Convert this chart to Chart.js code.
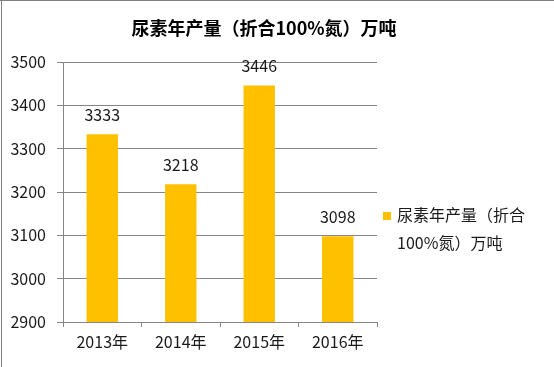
<!DOCTYPE html>
<html><head><meta charset="utf-8">
<script src="https://cdn.jsdelivr.net/npm/chart.js@4/dist/chart.umd.min.js"></script>
<style>html,body{margin:0;padding:0;background:#fff}#wrap{width:554px;height:367px;position:relative}</style>
</head><body><div id="wrap"><canvas id="c"></canvas></div>
<script>
const categories = ["2013年","2014年","2015年","2016年"];
const values = [3333, 3218, 3446, 3098];
const seriesLabel = "尿素年产量（折合100%氮）万吨";
const legendLines = ["尿素年产量（折合","100%氮）万吨"];
const chartTitle = "尿素年产量（折合100%氮）万吨";
const yMin = 2900, yMax = 3500, yStep = 100;
const FONT = "'Noto Sans CJK SC','Noto Sans',sans-serif";
const barColor = "#FFC000";
const gridColor = "#868686";

const decor = {
  id: 'decor',
  beforeDraw(chart){
    const ctx = chart.ctx;
    ctx.save();
    ctx.fillStyle = '#fff';
    ctx.fillRect(0,0,chart.width,chart.height);
    ctx.strokeStyle = '#808080';
    ctx.lineWidth = 1;
    ctx.beginPath();
    ctx.moveTo(0,0.5); ctx.lineTo(chart.width,0.5);
    ctx.moveTo(1.5,0); ctx.lineTo(1.5,chart.height);
    ctx.stroke();
    ctx.restore();
  },
  afterDraw(chart){
    const ctx = chart.ctx;
    ctx.save();
    ctx.fillStyle = '#000';
    ctx.font = "bold 18px " + FONT;
    ctx.textAlign = 'center';
    ctx.textBaseline = 'middle';
    ctx.fillText(chartTitle, 264, 28);
    const meta = chart.getDatasetMeta(0);
    ctx.font = "16px " + FONT;
    ctx.fillStyle = '#1a1a1a';
    meta.data.forEach((bar,i)=>{
      ctx.fillText(String(values[i]), bar.x, bar.y - 19);
    });
    ctx.fillStyle = barColor;
    ctx.fillRect(383, 212, 8, 8);
    ctx.fillStyle = '#1a1a1a';
    ctx.textAlign = 'left';
    ctx.fillText(legendLines[0], 397, 215);
    ctx.fillText(legendLines[1], 397, 243);
    ctx.restore();
  }
};

new Chart(document.getElementById('c'), {
  type: 'bar',
  data: { labels: categories, datasets: [{ label: seriesLabel, data: values, backgroundColor: barColor, barPercentage: 0.4, categoryPercentage: 1.0 }] },
  options: {
    responsive: true, maintainAspectRatio: false, animation: false,
    layout: { padding: { top: 62, right: 177, left: 0, bottom: 0 } },
    plugins: { legend: { display: false }, title: { display: false }, tooltip: { enabled: false } },
    scales: {
      x: {
        grid: { display: true, drawOnChartArea: false, drawTicks: true, tickLength: 5, color: gridColor, offset: true },
        border: { display: true, color: gridColor },
        ticks: { font: { size: 16, family: FONT }, color: '#1a1a1a', padding: 5 },
        afterFit(s){ s.height = 45; }
      },
      y: {
        min: yMin, max: yMax,
        grid: { color: gridColor, tickLength: 6, drawTicks: true },
        border: { display: true, color: gridColor },
        ticks: { stepSize: yStep, font: { size: 16, family: FONT }, color: '#1a1a1a', padding: 11, callback: v => String(v) },
        afterFit(s){ s.width = 63; }
      }
    }
  },
  plugins: [decor]
});
</script></body></html>
